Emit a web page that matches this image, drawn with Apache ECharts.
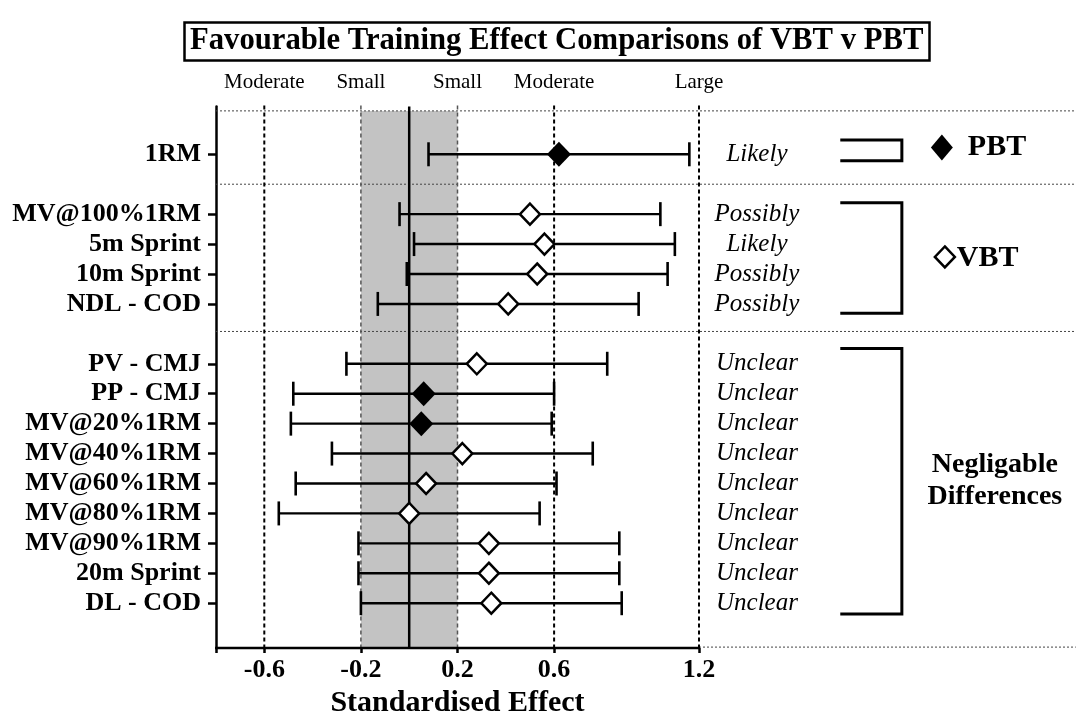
<!DOCTYPE html>
<html>
<head>
<meta charset="utf-8">
<script src="https://cdn.jsdelivr.net/npm/echarts@6/dist/echarts.min.js"></script>
<style>
  html, body { margin: 0; padding: 0; background: #fff; }
  #chart { width: 1076px; height: 720px; }
</style>
</head>
<body>
<div id="chart"></div>
<script>
// Outcome measures, top to bottom
const categories = ['1RM', 'MV@100%1RM', '5m Sprint', '10m Sprint', 'NDL - COD',
  'PV - CMJ', 'PP - CMJ', 'MV@20%1RM', 'MV@40%1RM', 'MV@60%1RM', 'MV@80%1RM',
  'MV@90%1RM', '20m Sprint', 'DL - COD'];
// Standardised effect (point estimate) and confidence limits
const effect = [0.62, 0.50, 0.56, 0.53, 0.41, 0.28, 0.06, 0.05, 0.22, 0.07, 0.00, 0.33, 0.33, 0.34];
const lower  = [0.08, -0.04, 0.02, -0.01, -0.13, -0.26, -0.48, -0.49, -0.32, -0.47, -0.54, -0.21, -0.21, -0.20];
const upper  = [1.16, 1.04, 1.10, 1.07, 0.95, 0.82, 0.60, 0.59, 0.76, 0.61, 0.54, 0.87, 0.87, 0.88];
// Which training method the estimate favours
const favours = ['PBT', 'VBT', 'VBT', 'VBT', 'VBT', 'VBT', 'PBT', 'PBT', 'VBT', 'VBT', 'VBT', 'VBT', 'VBT', 'VBT'];
// Qualitative inference for each outcome
const likelihood = ['Likely', 'Possibly', 'Likely', 'Possibly', 'Possibly',
  'Unclear', 'Unclear', 'Unclear', 'Unclear', 'Unclear', 'Unclear', 'Unclear', 'Unclear', 'Unclear'];
// Outcome block each measure belongs to
const block = [0, 1, 1, 1, 1, 2, 2, 2, 2, 2, 2, 2, 2, 2];
const blockNames = ['PBT', 'VBT', 'Negligable Differences'];
// Effect-size thresholds and their descriptors
const thresholds = [-0.6, -0.2, 0.2, 0.6, 1.2];
const thresholdNames = ['Moderate', 'Small', 'Small', 'Moderate', 'Large'];
const xTickLabels = [-0.6, -0.2, 0.2, 0.6, 1.2];

const SERIF = '"Liberation Serif", "Times New Roman", serif';
const X_MIN = -0.8, X_AXIS_END = 1.2, X_RIGHT = 2.76;
const Y_MIN = -0.6, Y_MAX = 17.5;
const BAND_TOP = -0.45;
const VERDICT_X = 1.44;
const BRACKET_X0 = 1.785, BRACKET_X1 = 2.04;

// Row positions: consecutive rows, one empty slot between blocks
const rowPos = [];
{
  let pos = 1;
  for (let i = 0; i < categories.length; i++) {
    if (i > 0 && block[i] !== block[i - 1]) pos += 1;
    rowPos.push(pos);
    pos += 1;
  }
}
// Divider lines sit between blocks
const dividers = [];
for (let i = 1; i < categories.length; i++) {
  if (block[i] !== block[i - 1]) dividers.push((rowPos[i] + rowPos[i - 1]) / 2 - (block[i] === 2 ? 0.08 : 0));
}
// Bracket extents per block
const bracketPad = [[0.48, 0.22], [0.38, 0.31], [0.51, 0.36]];
const brackets = blockNames.map((name, b) => {
  const rows = rowPos.filter((_, i) => block[i] === b);
  return [Math.min(...rows) - bracketPad[b][0], Math.max(...rows) + bracketPad[b][1]];
});

const chart = echarts.init(document.getElementById('chart'), null, { renderer: 'canvas' });

function frameItem(params, api) {
  const p = (x, y) => api.coord([x, y]);
  const kids = [];
  const a = p(-0.2, BAND_TOP), b = p(0.2, Y_MAX);
  kids.push({ type: 'rect', shape: { x: a[0], y: a[1], width: b[0] - a[0], height: b[1] - a[1] },
    style: { fill: '#c3c3c3' } });
  // horizontal dotted dividers
  [BAND_TOP, ...dividers].forEach(y => {
    const s = p(X_MIN, y), e = p(X_RIGHT, y);
    kids.push({ type: 'line', shape: { x1: s[0], y1: s[1], x2: e[0], y2: e[1] },
      style: { stroke: '#444', lineWidth: 1, lineDash: [2, 2] } });
  });
  {
    const s = p(X_AXIS_END, Y_MAX), e = p(X_RIGHT, Y_MAX);
    kids.push({ type: 'line', shape: { x1: s[0], y1: s[1] - 1, x2: e[0], y2: e[1] - 1 },
      style: { stroke: '#444', lineWidth: 1, lineDash: [2, 2] } });
  }
  // threshold lines
  thresholds.forEach(t => {
    const s = p(t, Y_MIN), e = p(t, Y_MAX);
    const inBand = Math.abs(t) < 0.21;
    kids.push({ type: 'line', shape: { x1: s[0], y1: s[1] - 1, x2: e[0], y2: e[1] },
      style: { stroke: inBand ? '#555' : '#000', lineWidth: inBand ? 1.5 : 2, lineDash: [4, 3] } });
  });
  // zero line
  {
    const s = p(0, Y_MIN), e = p(0, Y_MAX);
    kids.push({ type: 'line', shape: { x1: s[0], y1: s[1], x2: e[0], y2: e[1] },
      style: { stroke: '#000', lineWidth: 2.5 } });
  }
  // x axis line
  {
    const s = p(X_MIN, Y_MAX), e = p(X_AXIS_END, Y_MAX);
    kids.push({ type: 'line', shape: { x1: s[0] - 1, y1: s[1], x2: e[0] + 1, y2: e[1] },
      style: { stroke: '#000', lineWidth: 2.5 } });
  }
  return { type: 'group', children: kids };
}

function errorBarItem(params, api) {
  const y = api.value(2);
  const s = api.coord([api.value(0), y]);
  const e = api.coord([api.value(1), y]);
  const h = 12;
  return {
    type: 'group',
    children: [
      { type: 'line', shape: { x1: s[0], y1: s[1], x2: e[0], y2: e[1] }, style: { stroke: '#000', lineWidth: 2.4 } },
      { type: 'line', shape: { x1: s[0], y1: s[1] - h, x2: s[0], y2: s[1] + h }, style: { stroke: '#000', lineWidth: 2.6 } },
      { type: 'line', shape: { x1: e[0], y1: e[1] - h, x2: e[0], y2: e[1] + h }, style: { stroke: '#000', lineWidth: 2.6 } }
    ]
  };
}

function verdictItem(params, api) {
  const c = api.coord([api.value(0), api.value(1)]);
  return {
    type: 'text',
    x: c[0], y: c[1],
    style: { text: likelihood[params.dataIndex], fill: '#000', font: 'italic 25px ' + SERIF,
      align: 'center', verticalAlign: 'middle' }
  };
}

function bracketItem(params, api) {
  const x0 = api.value(0), x1 = api.value(1), y0 = api.value(2), y1 = api.value(3);
  const a = api.coord([x0, y0]), b = api.coord([x1, y0]), c = api.coord([x1, y1]), d = api.coord([x0, y1]);
  return {
    type: 'polyline',
    shape: { points: [a, b, c, d] },
    style: { stroke: '#000', lineWidth: 3, fill: null, lineJoin: 'miter' }
  };
}

const findRow = v => rowPos.findIndex(r => Math.abs(r - v) < 1e-6);

const option = {
  backgroundColor: '#fff',
  animation: false,
  title: {
    text: 'Favourable Training Effect Comparisons of VBT v PBT',
    left: 184, top: 22,
    padding: [4, 6, 4, 6],
    borderColor: '#000', borderWidth: 2.5,
    textStyle: { fontFamily: SERIF, fontWeight: 'bold', fontSize: 30.7, color: '#000' }
  },
  grid: { left: 216, width: 483, top: 106.4, height: 541.7, containLabel: false, outerBoundsMode: 'none' },
  xAxis: [
    {
      type: 'value', min: X_MIN, max: X_AXIS_END, position: 'bottom',
      axisLine: { show: false, onZero: false },
      splitLine: { show: false },
      axisTick: { show: true, customValues: [X_MIN, ...xTickLabels], length: 5, inside: false,
        lineStyle: { color: '#000', width: 2.5 } },
      axisLabel: { customValues: xTickLabels, margin: 9, color: '#000',
        fontFamily: SERIF, fontWeight: 'bold', fontSize: 26,
        formatter: v => (Math.round(v * 10) / 10).toFixed(1) },
      name: 'Standardised Effect', nameLocation: 'middle', nameGap: 39,
      nameTextStyle: { fontFamily: SERIF, fontWeight: 'bold', fontSize: 30, color: '#000' }
    },
    {
      type: 'value', min: X_MIN, max: X_AXIS_END, position: 'top',
      axisLine: { show: false, onZero: false }, axisTick: { show: false }, splitLine: { show: false },
      axisLabel: { customValues: thresholds, margin: 13, color: '#000',
        fontFamily: SERIF, fontSize: 21,
        formatter: v => thresholdNames[thresholds.findIndex(t => Math.abs(t - v) < 1e-6)] }
    }
  ],
  yAxis: {
    type: 'value', min: Y_MIN, max: Y_MAX, inverse: true,
    axisLine: { show: true, onZero: false, lineStyle: { color: '#000', width: 2.5 } },
    splitLine: { show: false },
    axisTick: { show: true, customValues: rowPos, length: 8, lineStyle: { color: '#000', width: 2.5 } },
    axisLabel: { customValues: rowPos, margin: 15, color: '#000',
      fontFamily: SERIF, fontWeight: 'bold', fontSize: 26,
      formatter: v => categories[findRow(v)] }
  },
  graphic: [],
  series: [
    { type: 'custom', name: 'frame', clip: false, z: 1, silent: true,
      data: [[X_MIN, Y_MIN]], renderItem: frameItem },
    { type: 'custom', name: 'interval', clip: false, z: 3, silent: true,
      encode: { x: [0, 1], y: 2 },
      data: categories.map((c, i) => [lower[i], upper[i], rowPos[i]]),
      renderItem: errorBarItem },
    { type: 'scatter', name: 'effect', clip: false, z: 5, silent: true,
      symbol: 'diamond',
      data: categories.map((c, i) => favours[i] === 'PBT'
        ? { value: [effect[i], rowPos[i]], symbolSize: [24, 25], itemStyle: { color: '#000', borderWidth: 0, opacity: 1 } }
        : { value: [effect[i], rowPos[i]], symbolSize: [20, 21], itemStyle: { color: '#fff', borderColor: '#000', borderWidth: 2.5, opacity: 1 } })
    },
    { type: 'custom', name: 'inference', clip: false, z: 4, silent: true,
      data: categories.map((c, i) => [VERDICT_X, rowPos[i]]),
      renderItem: verdictItem },
    { type: 'custom', name: 'blocks', clip: false, z: 4, silent: true,
      data: brackets.map(b => [BRACKET_X0, BRACKET_X1, b[0], b[1]]),
      encode: { x: [0, 1], y: [2, 3] },
      renderItem: bracketItem }
  ]
};

chart.setOption(option);

// Block legends to the right of the brackets
function placeLegends() {
  const px = (x, y) => chart.convertToPixel({ gridIndex: 0 }, [x, y]);
  const mid = b => (brackets[b][0] + brackets[b][1]) / 2;
  const pbt = px(BRACKET_X1, mid(0));
  const vbt = px(BRACKET_X1, mid(1));
  const neg = px(BRACKET_X1, mid(2));
  const bold = 'bold 30px ' + SERIF;
  const diamond = (cx, cy, w, h) => [[cx, cy - h / 2], [cx + w / 2, cy], [cx, cy + h / 2], [cx - w / 2, cy]];
  chart.setOption({
    graphic: [
      { type: 'polygon', shape: { points: diamond(pbt[0] + 40, pbt[1] - 3, 22, 26) }, style: { fill: '#000' } },
      { type: 'text', x: pbt[0] + 66, y: pbt[1] - 3, style: { text: blockNames[0], font: bold, fill: '#000', verticalAlign: 'middle' } },
      { type: 'polygon', shape: { points: diamond(vbt[0] + 43, vbt[1] - 1, 20, 21) }, style: { fill: '#fff', stroke: '#000', lineWidth: 2.5 } },
      { type: 'text', x: vbt[0] + 55, y: vbt[1], style: { text: blockNames[1], font: bold, fill: '#000', verticalAlign: 'middle' } },
      { type: 'text', x: neg[0] + 93, y: neg[1], style: { text: 'Negligable\nDifferences', font: 'bold 28px ' + SERIF,
        fill: '#000', align: 'center', verticalAlign: 'middle', lineHeight: 32 } }
    ]
  });
}
placeLegends();
</script>
</body>
</html>
